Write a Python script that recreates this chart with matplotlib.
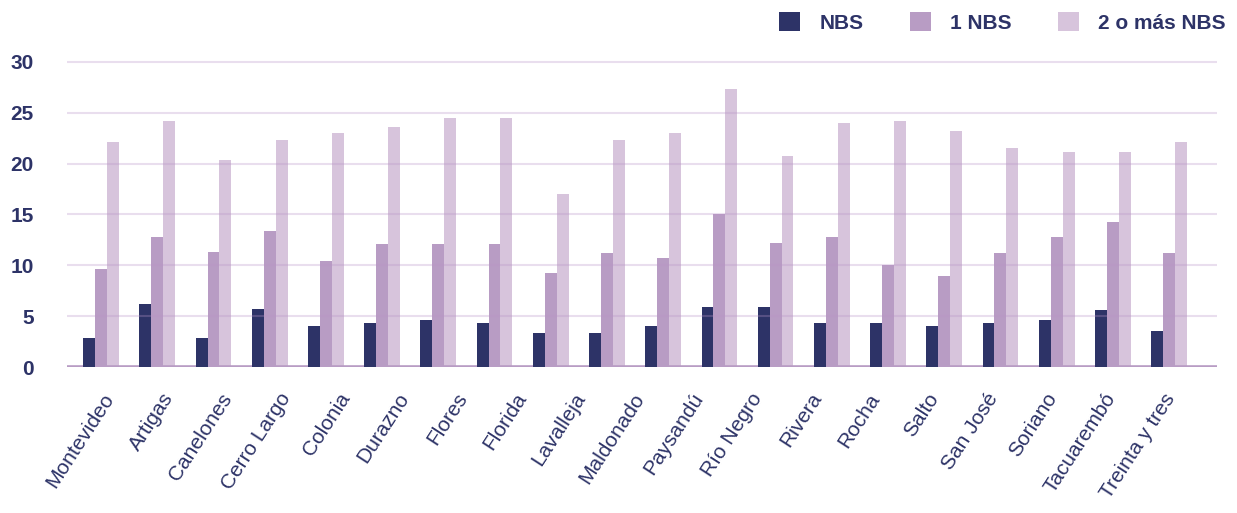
import matplotlib
matplotlib.use("Agg")
import matplotlib.pyplot as plt
import numpy as np

# ---- data ----
departamentos = ["Montevideo", "Artigas", "Canelones", "Cerro Largo", "Colonia",
                 "Durazno", "Flores", "Florida", "Lavalleja", "Maldonado",
                 "Paysandú", "Río Negro", "Rivera", "Rocha", "Salto",
                 "San José", "Soriano", "Tacuarembó", "Treinta y tres"]

# the reference shows 20 bar groups under 19 labels
nbs = [2.9, 6.2, 2.9, 5.7, 4.0, 4.3, 4.6, 4.3, 3.35, 3.35,
       4.0, 5.9, 5.9, 4.3, 4.3, 4.0, 4.3, 4.6, 5.6, 3.55]
un_nbs = [9.65, 12.8, 11.3, 13.4, 10.4, 12.1, 12.1, 12.1, 9.25, 11.2,
          10.7, 15.0, 12.2, 12.8, 10.0, 8.95, 11.2, 12.8, 14.3, 11.2]
dos_nbs = [22.15, 24.2, 20.4, 22.35, 23.0, 23.6, 24.5, 24.5, 17.0, 22.35,
           23.0, 27.3, 20.8, 24.0, 24.2, 23.2, 21.55, 21.1, 21.1, 22.15]
series_names = ["NBS", "1 NBS", "2 o más NBS"]
yticks = [0, 5, 10, 15, 20, 25, 30]

# ---- style ----
NAVY = "#2D3367"
C1 = "#B89CC4"
C2 = "#D7C4DC"
plt.rcParams['font.family'] = ['Liberation Sans', 'DejaVu Sans']

fig = plt.figure(figsize=(12.37, 5.13), dpi=100)
ax = fig.add_axes([0.0542, 0.2846, 0.9297, 0.6045])

x = np.arange(len(nbs))
w = 0.212
ax.bar(x - w, nbs, width=w, color=NAVY, zorder=3, label=series_names[0])
ax.bar(x, un_nbs, width=w, color=C1, zorder=2, label=series_names[1])
ax.bar(x + w, dos_nbs, width=w, color=C2, zorder=2, label=series_names[2])

ax.set_xlim(-0.605, 19.854)
ax.set_ylim(0, 30.5)

for t in yticks[1:]:
    ax.axhline(t, color=(0.72, 0.58, 0.78), alpha=0.3, lw=1.5, zorder=4)
ax.axhline(0, color=C1, lw=2.6, zorder=2.5)

for s in ax.spines.values():
    s.set_visible(False)
ax.set_yticks(yticks)
ax.set_yticklabels([str(t) for t in yticks], fontsize=15, fontweight='bold', color=NAVY)
ax.tick_params(axis='y', length=0, pad=24)
ax.set_xticks([])

# label axis (labels are spaced independently of the bar groups)
ax2 = ax.twiny()
ax2.set_xlim(-0.730, 18.79)
ax2.xaxis.set_ticks_position('bottom')
ax2.xaxis.set_label_position('bottom')
for s in ax2.spines.values():
    s.set_visible(False)
ax2.set_xticks(np.arange(len(departamentos)))
ax2.set_xticklabels(departamentos, fontsize=15, color=NAVY)
ax2.tick_params(axis='x', length=0, pad=20)
for lab in ax2.get_xticklabels():
    lab.set_rotation(57)
    lab.set_ha('right')
    lab.set_va('center')
    lab.set_rotation_mode('anchor')

handles, labels = ax.get_legend_handles_labels()
leg = fig.legend(handles, labels, loc='center right',
                 bbox_to_anchor=(1226 / 1237, 1 - 22.5 / 513),
                 ncol=3, frameon=False, borderpad=0, borderaxespad=0,
                 handlelength=1.0, handleheight=1.0, handletextpad=0.95,
                 columnspacing=2.2,
                 prop={'size': 15, 'weight': 'bold'})
for t in leg.get_texts():
    t.set_color(NAVY)

fig.savefig("out.png", dpi=100)
